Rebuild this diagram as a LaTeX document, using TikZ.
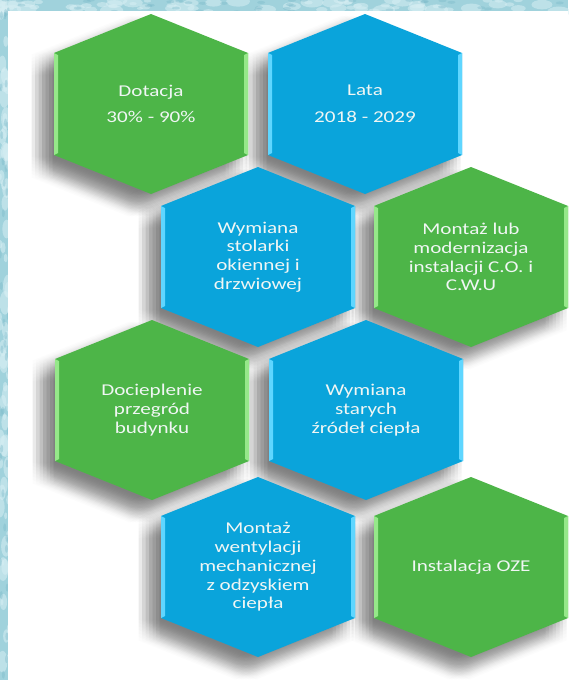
\documentclass[tikz,border=0pt]{standalone}
\usepackage{fontspec}
\newfontfamily\hexfont[FakeStretch=1.28]{Carlito}

\definecolor{hexgreen}{RGB}{77,181,72}
\definecolor{hexblue}{RGB}{10,164,219}
\definecolor{hexgreenrim}{RGB}{150,232,138}
\definecolor{hexbluerim}{RGB}{95,214,255}
\definecolor{frost}{RGB}{160,210,220}
\definecolor{frostlight}{RGB}{214,238,243}
\definecolor{frostdark}{RGB}{118,182,198}
\definecolor{labelwhite}{RGB}{240,246,244}

\tikzset{
  shadowlayer/.style={fill=black, fill opacity=0.011},
  hextext/.style={text=labelwhite, font=\hexfont\fontsize{16.5}{18.7}\selectfont,
      align=center, inner sep=0pt},
}

% one hexagonal cell: name, x, y, body colour, rim colour, label
\newcommand\hexcell[6]{%
  \fill[#4, shift={(#2,#3)}] (0,-90) -- (97,-51) -- (97,51) -- (0,90)
      -- (-97,51) -- (-97,-51) -- cycle;
  \fill[#5, shift={(#2,#3)}] (-97,-51) -- (-93,-49) -- (-93,49) -- (-97,51) -- cycle;
  \fill[#5, shift={(#2,#3)}] (97,-51) -- (93,-49) -- (93,49) -- (97,51) -- cycle;
  \node[hextext] (#1) at (#2,#3) {#6};
}

\begin{document}
\begin{tikzpicture}[x=1pt, y=-1pt]
  \useasboundingbox (0,0) rectangle (568,680);

  % frosted frame
  \fill[frost] (0,0) rectangle (568,680);
  \pgfmathsetseed{11}
  \foreach \i in {1,...,70} {
    \pgfmathsetmacro\bx{rnd*568}
    \pgfmathsetmacro\by{rnd*12}
    \pgfmathsetmacro\br{3+rnd*9}
    \fill[frostlight, opacity=0.55] (\bx,\by) ellipse ({\br} and {\br*0.45});
  }
  \foreach \i in {1,...,70} {
    \pgfmathsetmacro\bx{rnd*9}
    \pgfmathsetmacro\by{rnd*680}
    \pgfmathsetmacro\br{3+rnd*9}
    \fill[frostlight, opacity=0.55] (\bx,\by) ellipse ({\br*0.45} and {\br});
  }
  \foreach \i in {1,...,40} {
    \pgfmathsetmacro\bx{rnd*568}
    \pgfmathsetmacro\by{rnd*12}
    \fill[frostdark, opacity=0.35] (\bx,\by) ellipse (4 and 1.5);
  }
  \foreach \i in {1,...,40} {
    \pgfmathsetmacro\bx{rnd*9}
    \pgfmathsetmacro\by{rnd*680}
    \fill[frostdark, opacity=0.35] (\bx,\by) ellipse (1.5 and 4);
  }

  % white sheet
  \fill[white] (8,11) rectangle (568,680);

  % soft drop shadows (box blur of shifted translucent copies), under the cells
  \begin{scope}
    \clip (8,11) rectangle (568,680);
    \foreach \cx/\cy in {151/104, 365/104, 258/257, 471/257,
                         152/410, 366/410, 258/567, 471/567} {
      \foreach \dx in {-10.5,-7,...,10.6} {
        \foreach \dy in {-10.5,-7,...,10.6} {
          \path[shadowlayer, shift={(\cx-12+\dx,\cy+12+\dy)}]
              (0,-90) -- (97,-51) -- (97,51) -- (0,90)
              -- (-97,51) -- (-97,-51) -- cycle;
        }
      }
    }
  \end{scope}

  % cells
  \hexcell{dotacja}{151}{104}{hexgreen}{hexgreenrim}{Dotacja\\[8pt]30\% - 90\%}
  \hexcell{lata}{365}{104}{hexblue}{hexbluerim}{Lata\\[8pt]2018 - 2029}
  \hexcell{stolarka}{258}{257}{hexblue}{hexbluerim}{Wymiana\\stolarki\\okiennej i\\drzwiowej}
  \hexcell{instalacja}{471}{257}{hexgreen}{hexgreenrim}{Montaż lub\\modernizacja\\instalacji C.O. i\\C.W.U}
  \hexcell{docieplenie}{152}{410}{hexgreen}{hexgreenrim}{Docieplenie\\przegród\\budynku}
  \hexcell{zrodla}{366}{410}{hexblue}{hexbluerim}{Wymiana\\starych\\źródeł ciepła}
  \hexcell{wentylacja}{258}{567}{hexblue}{hexbluerim}{Montaż\\wentylacji\\mechanicznej\\z odzyskiem\\ciepła}
  \hexcell{oze}{471}{567}{hexgreen}{hexgreenrim}{Instalacja OZE}
\end{tikzpicture}
\end{document}
